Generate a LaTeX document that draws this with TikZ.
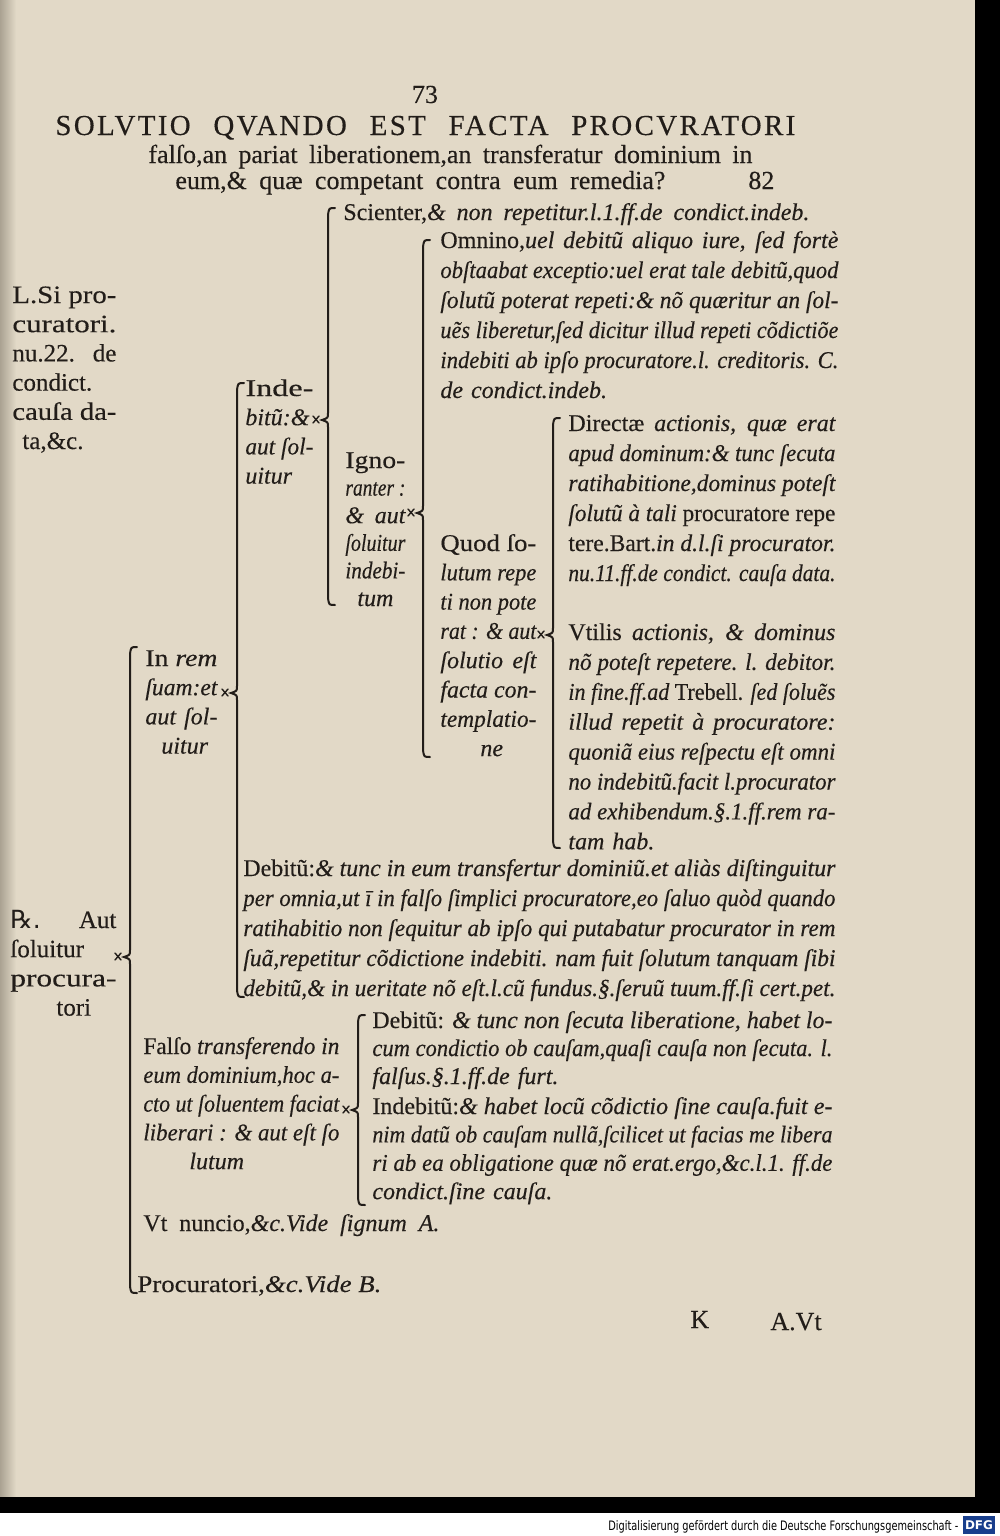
\documentclass[tikz,border=0pt]{standalone}
\usepackage{fontspec}
\usepackage{graphicx}
\setmainfont{Liberation Serif}[FakeBold=0.3]
\newfontfamily\symbfont{DejaVu Sans}
\newfontfamily\scanfont{DejaVu Sans}
\definecolor{Paper}{RGB}{226,217,199}
\definecolor{PaperShade}{RGB}{170,162,146}
\definecolor{Ink}{RGB}{34,29,25}
\definecolor{DFGBlue}{RGB}{24,62,140}

% one justified line: squeezed if long, spread if nearly full, widened if short
\newsavebox\linebox
\newdimen\fitmin
\newcommand\fitline[1]{\sbox\linebox{\spaceskip=0pt\xspaceskip=0pt #1}\fitmin=0.9\linewidth
  \ifdim\wd\linebox>\linewidth\resizebox{\linewidth}{\height}{\usebox\linebox}%
  \else\ifdim\wd\linebox<\fitmin\resizebox{\linewidth}{\height}{\usebox\linebox}%
  \else\makebox[\linewidth][s]{\spaceskip=0pt\xspaceskip=0pt #1}\fi\fi}

% one brace of the table: x, top, tip, bottom
\newcommand\tablebrace[4]{%
  \draw[bracketline] ({#1+7},#2) .. controls ({#1+1},#2) .. (#1,{#2+7}) -- (#1,{#3-7})
    .. controls (#1,{#3-2}) .. ({#1-6},#3) .. controls (#1,{#3+2}) .. (#1,{#3+7})
    -- (#1,{#4-7}) .. controls ({#1+1},#4) .. ({#1+7},#4);
  \draw[bracketline, line width=0.7pt] ({#1-15},{#3-4}) -- ({#1-9},{#3+3}) ({#1-15},{#3+3}) -- ({#1-9},{#3-4});}

\tikzset{
  gloss/.style={anchor=base west, inner sep=0pt, align=left, text=Ink, font=\fontsize{12}{#1}\selectfont\itshape},
  gloss/.default=15,
  sidenote/.style={anchor=base west, inner sep=0pt, align=left, text=Ink, font=\fontsize{12.5}{14.6}\selectfont},
  titlecaps/.style={anchor=base west, inner sep=0pt, align=left, text=Ink, font=\fontsize{14.5}{16}\selectfont\addfontfeatures{LetterSpace=8}},
  headline/.style={anchor=base west, inner sep=0pt, align=left, text=Ink, font=\fontsize{13}{15}\selectfont},
  bracketline/.style={draw=Ink, line width=1pt, line cap=round},
}

\begin{document}
\begin{tikzpicture}[x=0.5pt, y=-0.5pt]
  \useasboundingbox (0,0) rectangle (1000,1536);
  % page
  \fill[Paper] (0,0) rectangle (1000,1536);
  \shade[left color=PaperShade, right color=Paper] (0,0) rectangle (16,1497);
  \fill[black] (975,0) rectangle (1000,1513);
  \fill[black] (0,1497) rectangle (1000,1513);
  \fill[white] (0,1513) rectangle (1000,1536);

  % heading
  \node[headline, anchor=base] (folio) at (425,103) {73};
  \node[titlecaps, text width=370pt] (title) at (55,135) {\fitline{SOLVTIO QVANDO EST FACTA PROCVRATORI}};
  \node[headline, text width=302pt] (query1) at (148,163) {\fitline{falſo,an pariat liberationem,an transferatur dominium in}};
  \node[headline, text width=245pt] (query2) at (175,189) {\fitline{eum,\& quæ competant contra eum remedia?}};
  \node[headline] (chapter) at (748,189) {82};

  % margin notes
  \node[sidenote, text width=52pt] (allegatio) at (12,303) {\fitline{L.Si pro-}\\ \fitline{curatori.}\\ \fitline{nu.22. de}\\ condict.\\ \fitline{cauſa da-}\\ \hspace*{5pt}ta,\&c.};
  \node[sidenote, text width=53pt] (responsio) at (10,928) {\makebox[53pt][s]{{\symbfont ℞.}\hfil Aut}\\ ſoluitur\\ \fitline{procura-}\\ \hspace*{23pt}tori};

  % indebitum, scienter / ignoranter
  \node[gloss, text width=233pt] (scienter) at (343,220) {\fitline{\textup{Scienter,}\& non repetitur.l.1.ff.de condict.indeb.}};
  \node[gloss=14.6, text width=34pt] (indebitum) at (245,396) {\fitline{\textup{Inde-}}\\ \fitline{bitũ:\&}\\ \fitline{aut ſol-}\\ uitur};
  \node[gloss=13.8, text width=30pt] (ignoranter) at (345,468) {\fitline{\textup{Igno-}}\\ \fitline{ranter :}\\ \fitline{\& aut}\\ \fitline{ſoluitur}\\ \fitline{indebi-}\\ \hspace*{6pt}tum};
  \node[gloss, text width=199pt] (omnino) at (440,248) {\fitline{\textup{Omnino,}uel debitũ aliquo iure, ſed fortè}\\ \fitline{obſtaabat exceptio:uel erat tale debitũ,quod}\\ \fitline{ſolutũ poterat repeti:\& nõ quæritur an ſol-}\\ \fitline{uẽs liberetur,ſed dicitur illud repeti cõdictiõe}\\ \fitline{indebiti ab ipſo procuratore.l. creditoris. C.}\\ de condict.indeb.};
  \node[gloss=14.65, text width=48pt] (quodsolutum) at (440,551) {\fitline{\textup{Quod ſo-}}\\ \fitline{lutum repe}\\ \fitline{ti non pote}\\ \fitline{rat : \& aut}\\ \fitline{ſolutio eſt}\\ \fitline{facta con-}\\ \fitline{templatio-}\\ \hspace*{20pt}ne};
  \node[gloss, text width=133.5pt] (directae) at (568,431) {\fitline{\textup{Directæ} actionis, quæ erat}\\ \fitline{apud dominum:\& tunc ſecuta}\\ \fitline{ratihabitione,dominus poteſt}\\ \fitline{ſolutũ à tali \textup{procuratore repe}}\\ \fitline{\textup{tere.Bart.}in d.l.ſi procurator.}\\ \fitline{nu.11.ff.de condict. cauſa data.}};
  \node[gloss=14.95, text width=133.5pt] (utilis) at (568,640) {\fitline{\textup{Vtilis} actionis, \& dominus}\\ \fitline{nõ poteſt repetere. l. debitor.}\\ \fitline{in fine.ff.ad \textup{Trebell.} ſed ſoluẽs}\\ \fitline{illud repetit à procuratore:}\\ \fitline{quoniã eius reſpectu eſt omni}\\ \fitline{no indebitũ.facit l.procurator}\\ \fitline{ad exhibendum.§.1.ff.rem ra-}\\ tam hab.};

  % in rem suam
  \node[gloss=14.6, text width=36pt] (inrem) at (145,666) {\fitline{\textup{In} rem}\\ \fitline{ſuam:et}\\ \fitline{aut ſol-}\\ \hspace*{8pt}uitur};
  \node[gloss, text width=296pt] (debitum) at (243,876) {\fitline{\textup{Debitũ:}\& tunc in eum transfertur dominiũ.et aliàs diſtinguitur}\\ \fitline{per omnia,ut ī in falſo ſimplici procuratore,eo ſaluo quòd quando}\\ \fitline{ratihabitio non ſequitur ab ipſo qui putabatur procurator in rem}\\ \fitline{ſuã,repetitur cõdictione indebiti. nam fuit ſolutum tanquam ſibi}\\ \fitline{debitũ,\& in ueritate nõ eſt.l.cũ fundus.§.ſeruũ tuum.ff.ſi cert.pet.}};

  % falso transferendo
  \node[gloss=14.4, text width=98pt] (falso) at (143,1054) {\fitline{\textup{Falſo} transferendo in}\\ \fitline{eum dominium,hoc a-}\\ \fitline{cto ut ſoluentem faciat}\\ \fitline{liberari : \& aut eſt ſo}\\ \hspace*{23pt}lutum};
  \node[gloss=14, text width=230pt] (debitum2) at (372,1028) {\fitline{\textup{Debitũ:} \& tunc non ſecuta liberatione, habet lo-}\\ \fitline{cum condictio ob cauſam,quaſi cauſa non ſecuta. l.}\\ falſus.§.1.ff.de furt.};
  \node[gloss=14.2, text width=230pt] (indebitum2) at (372,1114) {\fitline{\textup{Indebitũ:}\& habet locũ cõdictio ſine cauſa.fuit e-}\\ \fitline{nim datũ ob cauſam nullã,ſcilicet ut facias me libera}\\ \fitline{ri ab ea obligatione quæ nõ erat.ergo,\&c.l.1. ff.de}\\ condict.ſine cauſa.};

  % nuncio, procuratori
  \node[gloss, text width=148pt] (nuncio) at (143,1231) {\fitline{\textup{Vt nuncio,}\&c.Vide ſignum A.}};
  \node[gloss, text width=122pt] (procuratori) at (137,1292) {\fitline{\textup{Procuratori,}\&c.Vide B.}};

  % signatures
  \node[headline] (signK) at (690,1328) {K};
  \node[headline] (catch) at (770,1330) {A.Vt};

  % braces
  \tablebrace{328}{208}{420}{605}
  \tablebrace{423}{240}{513}{757}
  \tablebrace{553}{418}{635}{848}
  \tablebrace{237}{383}{693}{997}
  \tablebrace{130}{647}{957}{1293}
  \tablebrace{358}{1015}{1110}{1205}

  % scan strip
  \node[anchor=base west, inner sep=0pt, text width=175pt, font=\scanfont\fontsize{6.5}{7}\selectfont] (dfgnote) at (608,1530) {\fitline{Digitalisierung gefördert durch die Deutsche Forschungsgemeinschaft -}};
  \node[fill=DFGBlue, text=white, inner sep=0pt, minimum width=16pt, minimum height=9pt, font=\scanfont\bfseries\fontsize{6}{6}\selectfont] (dfglogo) at (979,1525) {DFG};
\end{tikzpicture}
\end{document}
